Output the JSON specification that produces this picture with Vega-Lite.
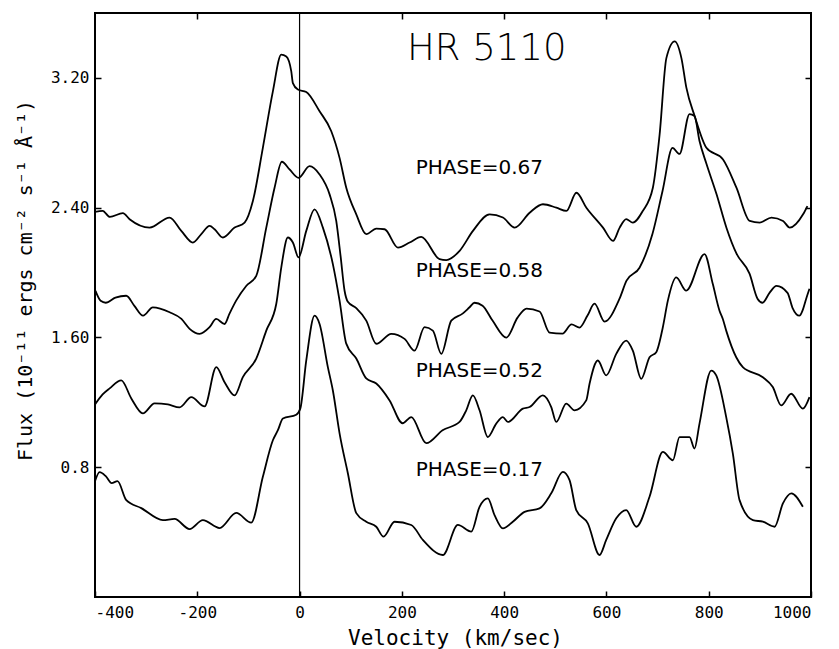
{
  "$schema": "https://vega.github.io/schema/vega-lite/v6.json",
  "width": 716,
  "height": 584,
  "autosize": {"type": "none"},
  "padding": {"left": 95, "top": 13, "right": 28, "bottom": 52},
  "background": "white",
  "config": {
    "view": {"stroke": "black", "strokeWidth": 2},
    "font": "DejaVu Sans Mono",
    "axis": {"grid": false, "domain": false, "tickColor": "black", "tickWidth": 1.5, "labelColor": "black", "labelFontSize": 16, "labelFont": "DejaVu Sans Mono", "titleColor": "black", "titleFont": "DejaVu Sans Mono", "titleFontWeight": "normal", "titleFontSize": 20}
  },
  "datasets": {
    "curves": [
      {"phase":"0.67","v":-400,"f":2.374},{"phase":"0.67","v":-385,"f":2.380},{"phase":"0.67","v":-371,"f":2.343},{"phase":"0.67","v":-345.5,"f":2.366},{"phase":"0.67","v":-332.4,"f":2.329},{"phase":"0.67","v":-293.3,"f":2.277},{"phase":"0.67","v":-254.2,"f":2.339},{"phase":"0.67","v":-231.3,"f":2.257},{"phase":"0.67","v":-208.6,"f":2.185},{"phase":"0.67","v":-192.2,"f":2.237},{"phase":"0.67","v":-175.9,"f":2.288},{"phase":"0.67","v":-166.2,"f":2.267},{"phase":"0.67","v":-150,"f":2.216},{"phase":"0.67","v":-127.1,"f":2.277},{"phase":"0.67","v":-107.5,"f":2.308},{"phase":"0.67","v":-91.3,"f":2.441},{"phase":"0.67","v":-71.8,"f":2.769},{"phase":"0.67","v":-52.2,"f":3.117},{"phase":"0.67","v":-35.8,"f":3.343},{"phase":"0.67","v":-26,"f":3.332},{"phase":"0.67","v":-16.2,"f":3.240},{"phase":"0.67","v":-13.1,"f":3.168},{"phase":"0.67","v":-3.3,"f":3.128},{"phase":"0.67","v":13.1,"f":3.113},{"phase":"0.67","v":39.1,"f":2.994},{"phase":"0.67","v":62,"f":2.871},{"phase":"0.67","v":78.2,"f":2.707},{"phase":"0.67","v":91.3,"f":2.523},{"phase":"0.67","v":110.9,"f":2.359},{"phase":"0.67","v":130.4,"f":2.237},{"phase":"0.67","v":150,"f":2.271},{"phase":"0.67","v":166.3,"f":2.267},{"phase":"0.67","v":192.3,"f":2.154},{"phase":"0.67","v":215.1,"f":2.185},{"phase":"0.67","v":238,"f":2.220},{"phase":"0.67","v":273.7,"f":2.083},{"phase":"0.67","v":286.9,"f":2.077},{"phase":"0.67","v":312.9,"f":2.134},{"phase":"0.67","v":339,"f":2.257},{"phase":"0.67","v":371.6,"f":2.359},{"phase":"0.67","v":397.6,"f":2.339},{"phase":"0.67","v":420.5,"f":2.277},{"phase":"0.67","v":449.9,"f":2.369},{"phase":"0.67","v":475.9,"f":2.421},{"phase":"0.67","v":502.1,"f":2.400},{"phase":"0.67","v":521.7,"f":2.380},{"phase":"0.67","v":541.3,"f":2.492},{"phase":"0.67","v":560.8,"f":2.400},{"phase":"0.67","v":593.3,"f":2.277},{"phase":"0.67","v":612.9,"f":2.195},{"phase":"0.67","v":625.9,"f":2.277},{"phase":"0.67","v":638.7,"f":2.329},{"phase":"0.67","v":651.6,"f":2.308},{"phase":"0.67","v":671.2,"f":2.380},{"phase":"0.67","v":690.8,"f":2.523},{"phase":"0.67","v":704,"f":2.851},{"phase":"0.67","v":717.2,"f":3.322},{"phase":"0.67","v":733.5,"f":3.425},{"phase":"0.67","v":746.6,"f":3.322},{"phase":"0.67","v":756.4,"f":3.138},{"phase":"0.67","v":772.6,"f":2.964},{"phase":"0.67","v":795.5,"f":2.769},{"phase":"0.67","v":828,"f":2.697},{"phase":"0.67","v":854.2,"f":2.523},{"phase":"0.67","v":880.2,"f":2.318},{"phase":"0.67","v":899.8,"f":2.308},{"phase":"0.67","v":922.7,"f":2.339},{"phase":"0.67","v":945.4,"f":2.318},{"phase":"0.67","v":958.5,"f":2.277},{"phase":"0.67","v":984.5,"f":2.359},{"phase":"0.67","v":993,"f":2.41},
      {"phase":"0.58","v":-399,"f":1.887},{"phase":"0.58","v":-389,"f":1.826},{"phase":"0.58","v":-379,"f":1.814},{"phase":"0.58","v":-360,"f":1.845},{"phase":"0.58","v":-339,"f":1.857},{"phase":"0.58","v":-323,"f":1.795},{"phase":"0.58","v":-306,"f":1.734},{"phase":"0.58","v":-287,"f":1.785},{"phase":"0.58","v":-254,"f":1.755},{"phase":"0.58","v":-231,"f":1.714},{"phase":"0.58","v":-215,"f":1.653},{"phase":"0.58","v":-195.5,"f":1.622},{"phase":"0.58","v":-176,"f":1.663},{"phase":"0.58","v":-163,"f":1.714},{"phase":"0.58","v":-146.6,"f":1.683},{"phase":"0.58","v":-137,"f":1.747},{"phase":"0.58","v":-124,"f":1.827},{"phase":"0.58","v":-104,"f":1.919},{"phase":"0.58","v":-84.7,"f":1.980},{"phase":"0.58","v":-65.1,"f":2.277},{"phase":"0.58","v":-48.9,"f":2.523},{"phase":"0.58","v":-34.6,"f":2.683},{"phase":"0.58","v":-19.6,"f":2.636},{"phase":"0.58","v":-2,"f":2.584},{"phase":"0.58","v":19.6,"f":2.656},{"phase":"0.58","v":39.1,"f":2.605},{"phase":"0.58","v":58.7,"f":2.482},{"phase":"0.58","v":71.7,"f":2.318},{"phase":"0.58","v":80.2,"f":2.101},{"phase":"0.58","v":88,"f":1.888},{"phase":"0.58","v":94.4,"f":1.820},{"phase":"0.58","v":110.9,"f":1.781},{"phase":"0.58","v":130.4,"f":1.704},{"phase":"0.58","v":150,"f":1.561},{"phase":"0.58","v":179.3,"f":1.622},{"phase":"0.58","v":205.3,"f":1.591},{"phase":"0.58","v":224.8,"f":1.519},{"phase":"0.58","v":244.4,"f":1.663},{"phase":"0.58","v":260.6,"f":1.642},{"phase":"0.58","v":277.1,"f":1.499},{"phase":"0.58","v":296.6,"f":1.704},{"phase":"0.58","v":318.7,"f":1.747},{"phase":"0.58","v":332.4,"f":1.786},{"phase":"0.58","v":342.1,"f":1.814},{"phase":"0.58","v":357.8,"f":1.796},{"phase":"0.58","v":377.3,"f":1.704},{"phase":"0.58","v":404.1,"f":1.599},{"phase":"0.58","v":426.2,"f":1.722},{"phase":"0.58","v":443.8,"f":1.778},{"phase":"0.58","v":469.2,"f":1.760},{"phase":"0.58","v":488.8,"f":1.630},{"phase":"0.58","v":514.2,"f":1.624},{"phase":"0.58","v":531.8,"f":1.680},{"phase":"0.58","v":547.4,"f":1.661},{"phase":"0.58","v":563,"f":1.735},{"phase":"0.58","v":576.7,"f":1.808},{"phase":"0.58","v":596.3,"f":1.698},{"phase":"0.58","v":625.6,"f":1.839},{"phase":"0.58","v":639.3,"f":1.950},{"phase":"0.58","v":664.7,"f":2.030},{"phase":"0.58","v":690.1,"f":2.239},{"phase":"0.58","v":709.7,"f":2.503},{"phase":"0.58","v":729.2,"f":2.768},{"phase":"0.58","v":742.9,"f":2.731},{"phase":"0.58","v":762.5,"f":2.977},{"phase":"0.58","v":772.2,"f":2.965},{"phase":"0.58","v":782,"f":2.811},{"phase":"0.58","v":795.7,"f":2.669},{"phase":"0.58","v":815.2,"f":2.484},{"phase":"0.58","v":834.8,"f":2.275},{"phase":"0.58","v":854.4,"f":2.116},{"phase":"0.58","v":879.8,"f":1.993},{"phase":"0.58","v":895.4,"f":1.839},{"phase":"0.58","v":905.2,"f":1.814},{"phase":"0.58","v":918.9,"f":1.875},{"phase":"0.58","v":932.6,"f":1.918},{"phase":"0.58","v":954.1,"f":1.875},{"phase":"0.58","v":963.8,"f":1.783},{"phase":"0.58","v":977.5,"f":1.734},{"phase":"0.58","v":983.4,"f":1.765},{"phase":"0.58","v":991.2,"f":1.845},{"phase":"0.58","v":997,"f":1.900},
      {"phase":"0.52","v":-400,"f":1.187},{"phase":"0.52","v":-385.1,"f":1.249},{"phase":"0.52","v":-371.4,"f":1.286},{"phase":"0.52","v":-348.6,"f":1.335},{"phase":"0.52","v":-329,"f":1.224},{"phase":"0.52","v":-306.4,"f":1.132},{"phase":"0.52","v":-283.5,"f":1.194},{"phase":"0.52","v":-257.5,"f":1.187},{"phase":"0.52","v":-234.6,"f":1.169},{"phase":"0.52","v":-211.7,"f":1.232},{"phase":"0.52","v":-185.7,"f":1.175},{"phase":"0.52","v":-162.9,"f":1.417},{"phase":"0.52","v":-146.6,"f":1.324},{"phase":"0.52","v":-127.1,"f":1.243},{"phase":"0.52","v":-110.9,"f":1.355},{"phase":"0.52","v":-84.7,"f":1.470},{"phase":"0.52","v":-65.1,"f":1.642},{"phase":"0.52","v":-45.6,"f":1.806},{"phase":"0.52","v":-35.8,"f":2.031},{"phase":"0.52","v":-22.9,"f":2.216},{"phase":"0.52","v":-13.1,"f":2.185},{"phase":"0.52","v":-2,"f":2.093},{"phase":"0.52","v":13.1,"f":2.257},{"phase":"0.52","v":29.3,"f":2.390},{"phase":"0.52","v":45.6,"f":2.277},{"phase":"0.52","v":65.1,"f":2.052},{"phase":"0.52","v":78.2,"f":1.827},{"phase":"0.52","v":91.3,"f":1.562},{"phase":"0.52","v":110.9,"f":1.470},{"phase":"0.52","v":130.4,"f":1.347},{"phase":"0.52","v":150,"f":1.316},{"phase":"0.52","v":176,"f":1.212},{"phase":"0.52","v":201.4,"f":1.071},{"phase":"0.52","v":218.4,"f":1.109},{"phase":"0.52","v":247.7,"f":0.948},{"phase":"0.52","v":279.6,"f":1.028},{"phase":"0.52","v":312.8,"f":1.079},{"phase":"0.52","v":325.9,"f":1.151},{"phase":"0.52","v":338.8,"f":1.243},{"phase":"0.52","v":351.9,"f":1.151},{"phase":"0.52","v":368.1,"f":0.986},{"phase":"0.52","v":384.6,"f":1.069},{"phase":"0.52","v":397.5,"f":1.109},{"phase":"0.52","v":407.2,"f":1.079},{"phase":"0.52","v":436.6,"f":1.161},{"phase":"0.52","v":449.7,"f":1.171},{"phase":"0.52","v":475.7,"f":1.243},{"phase":"0.52","v":492.1,"f":1.171},{"phase":"0.52","v":501.9,"f":1.079},{"phase":"0.52","v":521.4,"f":1.192},{"phase":"0.52","v":537.6,"f":1.151},{"phase":"0.52","v":560.5,"f":1.212},{"phase":"0.52","v":567,"f":1.315},{"phase":"0.52","v":583.2,"f":1.458},{"phase":"0.52","v":599.6,"f":1.366},{"phase":"0.52","v":619.2,"f":1.499},{"phase":"0.52","v":638.7,"f":1.581},{"phase":"0.52","v":651.6,"f":1.519},{"phase":"0.52","v":668.1,"f":1.345},{"phase":"0.52","v":684.3,"f":1.478},{"phase":"0.52","v":697.4,"f":1.509},{"phase":"0.52","v":710.3,"f":1.663},{"phase":"0.52","v":720.1,"f":1.827},{"phase":"0.52","v":736.5,"f":1.970},{"phase":"0.52","v":756,"f":1.888},{"phase":"0.52","v":791.8,"f":2.114},{"phase":"0.52","v":808,"f":1.929},{"phase":"0.52","v":821.1,"f":1.765},{"phase":"0.52","v":827.6,"f":1.714},{"phase":"0.52","v":834.2,"f":1.642},{"phase":"0.52","v":853.8,"f":1.478},{"phase":"0.52","v":866.7,"f":1.417},{"phase":"0.52","v":905.8,"f":1.355},{"phase":"0.52","v":925.3,"f":1.294},{"phase":"0.52","v":941.7,"f":1.181},{"phase":"0.52","v":961.3,"f":1.253},{"phase":"0.52","v":984,"f":1.161},{"phase":"0.52","v":997,"f":1.232},
      {"phase":"0.17","v":-400,"f":0.714},{"phase":"0.17","v":-391,"f":0.770},{"phase":"0.17","v":-379,"f":0.745},{"phase":"0.17","v":-367.5,"f":0.702},{"phase":"0.17","v":-356,"f":0.714},{"phase":"0.17","v":-338.8,"f":0.597},{"phase":"0.17","v":-309.5,"f":0.548},{"phase":"0.17","v":-267.3,"f":0.474},{"phase":"0.17","v":-244.4,"f":0.481},{"phase":"0.17","v":-215.1,"f":0.419},{"phase":"0.17","v":-189.1,"f":0.474},{"phase":"0.17","v":-156.4,"f":0.425},{"phase":"0.17","v":-123.8,"f":0.518},{"phase":"0.17","v":-94.5,"f":0.458},{"phase":"0.17","v":-71.8,"f":0.741},{"phase":"0.17","v":-52.2,"f":0.966},{"phase":"0.17","v":-42.4,"f":1.028},{"phase":"0.17","v":-32.6,"f":1.100},{"phase":"0.17","v":-6.5,"f":1.124},{"phase":"0.17","v":1.4,"f":1.161},{"phase":"0.17","v":13.1,"f":1.458},{"phase":"0.17","v":29.3,"f":1.734},{"phase":"0.17","v":39.1,"f":1.683},{"phase":"0.17","v":55.3,"f":1.417},{"phase":"0.17","v":65.1,"f":1.273},{"phase":"0.17","v":78.2,"f":1.009},{"phase":"0.17","v":94.4,"f":0.763},{"phase":"0.17","v":110.9,"f":0.517},{"phase":"0.17","v":130.4,"f":0.464},{"phase":"0.17","v":150,"f":0.433},{"phase":"0.17","v":164.2,"f":0.372},{"phase":"0.17","v":185.7,"f":0.464},{"phase":"0.17","v":218.4,"f":0.444},{"phase":"0.17","v":241,"f":0.352},{"phase":"0.17","v":280.2,"f":0.259},{"phase":"0.17","v":309.5,"f":0.444},{"phase":"0.17","v":335.7,"f":0.403},{"phase":"0.17","v":351.9,"f":0.556},{"phase":"0.17","v":368.1,"f":0.608},{"phase":"0.17","v":381.2,"f":0.505},{"phase":"0.17","v":397.5,"f":0.423},{"phase":"0.17","v":417,"f":0.464},{"phase":"0.17","v":439.9,"f":0.525},{"phase":"0.17","v":469.2,"f":0.546},{"phase":"0.17","v":492.1,"f":0.639},{"phase":"0.17","v":514.8,"f":0.771},{"phase":"0.17","v":527.9,"f":0.720},{"phase":"0.17","v":541,"f":0.536},{"phase":"0.17","v":563.6,"f":0.454},{"phase":"0.17","v":586.5,"f":0.259},{"phase":"0.17","v":599.6,"f":0.352},{"phase":"0.17","v":619.2,"f":0.485},{"phase":"0.17","v":638.7,"f":0.536},{"phase":"0.17","v":658.3,"f":0.433},{"phase":"0.17","v":684.3,"f":0.618},{"phase":"0.17","v":710.3,"f":0.894},{"phase":"0.17","v":729.9,"f":0.843},{"phase":"0.17","v":742.9,"f":0.986},{"phase":"0.17","v":762.5,"f":0.986},{"phase":"0.17","v":772.2,"f":0.915},{"phase":"0.17","v":782,"f":1.069},{"phase":"0.17","v":804.9,"f":1.396},{"phase":"0.17","v":814.7,"f":1.366},{"phase":"0.17","v":834.2,"f":1.109},{"phase":"0.17","v":847.2,"f":0.884},{"phase":"0.17","v":860.3,"f":0.597},{"phase":"0.17","v":886.4,"f":0.474},{"phase":"0.17","v":905.9,"f":0.464},{"phase":"0.17","v":928.8,"f":0.433},{"phase":"0.17","v":945.1,"f":0.577},{"phase":"0.17","v":961.5,"f":0.639},{"phase":"0.17","v":984.1,"f":0.556}
    ],
    "labels": [
      {"label": "PHASE=0.67", "lx": 227, "ly": 2.644},
      {"label": "PHASE=0.58", "lx": 227, "ly": 2.011},
      {"label": "PHASE=0.52", "lx": 227, "ly": 1.396},
      {"label": "PHASE=0.17", "lx": 227, "ly": 0.782}
    ],
    "heading": [
      {"label": "HR 5110", "lx": 366, "ly": 3.38}
    ],
    "zero": [
      {"v": 0}
    ]
  },
  "layer": [
    {
      "data": {"name": "curves"},
      "mark": {"type": "line", "color": "black", "strokeWidth": 1.8, "interpolate": "monotone"},
      "encoding": {
        "x": {"field": "v", "type": "quantitative", "scale": {"domain": [-400, 1000], "nice": false, "zero": false},
          "axis": {"orient": "bottom", "values": [-400, -200, 0, 200, 400, 600, 800, 1000], "tickSize": -6, "labelPadding": 13, "labelBaseline": "top", "labelFontSize": 16,
            "labelExpr": "'' + datum.value",
            "title": "Velocity (km/sec)", "titleFontSize": 21, "titleX": 360, "titleY": 41, "titleAlign": "center", "titleBaseline": "middle"}},
        "y": {"field": "f", "type": "quantitative", "scale": {"domain": [0, 3.6], "nice": false, "zero": false},
          "axis": {"orient": "left", "values": [0.8, 1.6, 2.4, 3.2], "tickSize": -6, "labelPadding": 12,
            "labelExpr": "datum.value < 1 ? '0.8' : format(datum.value, '.2f')",
            "title": "Flux  (10⁻¹¹ ergs cm⁻² s⁻¹ Å⁻¹)", "titleX": -70, "titleY": 267, "titleAngle": 270, "titleAlign": "center", "titleBaseline": "middle"}},
        "detail": {"field": "phase", "type": "nominal"}
      }
    },
    {
      "data": {"name": "zero"},
      "mark": {"type": "rule", "color": "black", "strokeWidth": 1.2},
      "encoding": {
        "x": {"field": "v", "type": "quantitative", "scale": {"domain": [-400, 1000], "nice": false, "zero": false}, "axis": null}
      }
    },
    {
      "data": {"name": "labels"},
      "mark": {"type": "text", "align": "left", "baseline": "middle", "fontSize": 20, "font": "DejaVu Sans", "color": "black"},
      "encoding": {
        "x": {"field": "lx", "type": "quantitative", "scale": {"domain": [-400, 1000], "nice": false, "zero": false},
          "axis": {"orient": "top", "values": [-200, 200, 400, 600, 800], "tickSize": -6, "labels": false, "title": null}},
        "y": {"field": "ly", "type": "quantitative", "scale": {"domain": [0, 3.6], "nice": false, "zero": false},
          "axis": {"orient": "right", "values": [0.8, 1.6, 2.4, 3.2], "tickSize": -6, "labels": false, "title": null}},
        "text": {"field": "label", "type": "nominal"}
      }
    },
    {
      "data": {"name": "heading"},
      "mark": {"type": "text", "align": "center", "baseline": "middle", "fontSize": 37, "fontWeight": 300, "font": "DejaVu Sans", "color": "black"},
      "encoding": {
        "x": {"field": "lx", "type": "quantitative", "scale": {"domain": [-400, 1000], "nice": false, "zero": false}, "axis": null},
        "y": {"field": "ly", "type": "quantitative", "scale": {"domain": [0, 3.6], "nice": false, "zero": false}, "axis": null},
        "text": {"field": "label", "type": "nominal"}
      }
    }
  ],
  "resolve": {"axis": {"x": "independent", "y": "independent"}}
}
